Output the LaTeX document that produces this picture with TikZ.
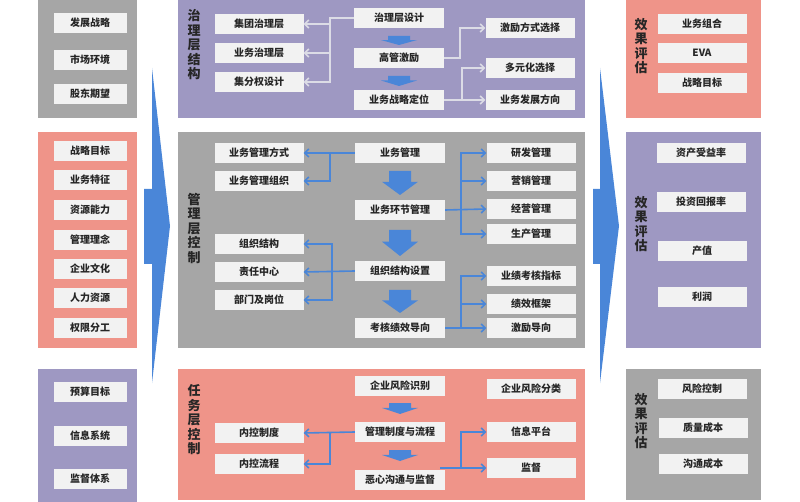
\documentclass[tikz,border=0pt]{standalone}
\usepackage{fontspec}
\setmainfont{Noto Sans CJK SC}
\usetikzlibrary{arrows.meta}
\definecolor{pgray}{HTML}{A6A6A6}
\definecolor{psalmon}{HTML}{EF9489}
\definecolor{ppurple}{HTML}{9E98C2}
\definecolor{bwhite}{HTML}{F2F2F2}
\definecolor{ablue}{HTML}{4A86D8}
\definecolor{alight}{HTML}{DCDCE6}
\tikzset{
  panel/.style={fill=#1, draw=none},
  box/.style={fill=bwhite, minimum width=#1, minimum height=20, inner sep=0pt,
    font=\bfseries\fontsize{10}{12}\selectfont, text=black!85},
  box/.default=89,
  title/.style={align=center, font=\bfseries\fontsize{13}{14.5}\selectfont, text=black!85, inner sep=0pt},
  conn/.style={draw=ablue, line width=1.6pt, -{Straight Barb[length=4pt,width=8pt]}},
  lconn/.style={conn, draw=alight},
  blk/.style={fill=ablue, draw=none}
}
% block arrow pointing down: x, top, bottom
\newcommand{\dnarrow}[3]{\fill[blk] (#1-11,#2) -- (#1+11,#2) -- (#1+11,{#2+(#3-#2)*0.45}) -- (#1+18,{#2+(#3-#2)*0.45}) -- (#1,#3) -- (#1-18,{#2+(#3-#2)*0.45}) -- (#1-11,{#2+(#3-#2)*0.45}) -- cycle;}
\begin{document}
\begin{tikzpicture}[x=1pt,y=-1pt]
    \useasboundingbox (0,0) rectangle (800,502);

    % left column
    \fill[panel=pgray] (38,0) rectangle (137,118);
    \fill[panel=psalmon] (38,132) rectangle (137,348);
    \fill[panel=ppurple] (38,369) rectangle (137,502);
    \node[box=73] (fz) at (90,23) {发展战略};
    \node[box=73] (sc) at (90,60) {市场环境};
    \node[box=73] (gd) at (90,94) {股东期望};
    \node[box=73] (zl) at (90,151) {战略目标};
    \node[box=73] (tz) at (90,180) {业务特征};
    \node[box=73] (zy) at (90,210) {资源能力};
    \node[box=73] (gl) at (90,240) {管理理念};
    \node[box=73] (wh) at (90,269) {企业文化};
    \node[box=73] (rl) at (90,298) {人力资源};
    \node[box=73] (qx) at (90,328) {权限分工};
    \node[box=73] (ys) at (90,392) {预算目标};
    \node[box=73] (xx) at (90,436) {信息系统};
    \node[box=73] (jd) at (90,479) {监督体系};

    % big arrows
    \fill[blk] (152,68) -- (170,226) -- (152,383) -- (152,264) -- (144,264) -- (144,189) -- (152,189) -- cycle;
    \fill[blk] (600,68) -- (619,226) -- (600,383) -- (600,264) -- (593,264) -- (593,189) -- (600,189) -- cycle;

    % governance layer
    \fill[panel=ppurple] (178,0) rectangle (585,118);
    \node[title] at (194,45) {治\\理\\层\\结\\构};
    \node[box] (jtzl) at (259,24) {集团治理层};
    \node[box] (ywzl) at (259,53) {业务治理层};
    \node[box] (jfq) at (259,82) {集分权设计};
    \node[box=90] (zlsj) at (399,18) {治理层设计};
    \node[box=90] (ggjl) at (399,58) {高管激励};
    \node[box=90] (ywdw) at (399,100) {业务战略定位};
    \node[box] (jlfs) at (530,28) {激励方式选择};
    \node[box] (dyh) at (530,68) {多元化选择};
    \node[box] (fzfx) at (530,100) {业务发展方向};
    \draw[lconn] (zlsj.west) -- (330,18) |- (jtzl.east);
    \draw[lconn] (330,18) |- (ywzl.east);
    \draw[lconn] (330,18) |- (jfq.east);
    \draw[lconn] (ggjl.east) -- (460,58) |- (jlfs.west);
    \draw[lconn] (ywdw.east) -- (fzfx.west);
    \draw[lconn] (462,100) |- (dyh.west);
    \dnarrow{399}{36}{45}
    \dnarrow{399}{76}{86}

    % management layer
    \fill[panel=pgray] (178,132) rectangle (585,348);
    \node[title] at (194,228) {管\\理\\层\\控\\制};
    \node[box] (glfs) at (259,153) {业务管理方式};
    \node[box] (glzz) at (259,181) {业务管理组织};
    \node[box] (zzjg) at (259,244) {组织结构};
    \node[box] (zrzx) at (259,272) {责任中心};
    \node[box] (bmgw) at (259,300) {部门及岗位};
    \node[box=90] (ywgl) at (400,153) {业务管理};
    \node[box=90] (hjgl) at (400,210) {业务环节管理};
    \node[box=90] (jgsz) at (400,271) {组织结构设置};
    \node[box=90] (khdx) at (400,328) {考核绩效导向};
    \node[box] (yfgl) at (531,153) {研发管理};
    \node[box] (yxgl) at (531,181) {营销管理};
    \node[box] (jygl) at (531,209) {经营管理};
    \node[box] (scgl) at (531,234) {生产管理};
    \node[box] (yjzb) at (531,276) {业绩考核指标};
    \node[box] (jxkj) at (531,304) {绩效框架};
    \node[box] (jldx) at (531,328) {激励导向};
    \draw[conn] (ywgl.west) -- (330,153) -- (glfs.east);
    \draw[conn] (330,153) |- (glzz.east);
    \draw[conn] (hjgl.east) -- (jygl.west);
    \draw[conn] (461,209) |- (yfgl.west);
    \draw[conn] (461,209) |- (yxgl.west);
    \draw[conn] (461,209) |- (scgl.west);
    \draw[conn] (jgsz.west) -- (zrzx.east);
    \draw[conn] (332,271) |- (zzjg.east);
    \draw[conn] (332,271) |- (bmgw.east);
    \draw[conn] (khdx.east) -- (jldx.west);
    \draw[conn] (461,328) |- (yjzb.west);
    \draw[conn] (461,328) |- (jxkj.west);
    \dnarrow{400}{171}{195}
    \dnarrow{400}{230}{256}
    \dnarrow{400}{290}{313}

    % task layer
    \fill[panel=psalmon] (178,369) rectangle (585,500);
    \node[title] at (194,420) {任\\务\\层\\控\\制};
    \node[box] (nkzd) at (259,433) {内控制度};
    \node[box] (nklc) at (259,464) {内控流程};
    \node[box=90] (fxsb) at (400,386) {企业风险识别};
    \node[box=90] (zdlc) at (400,432) {管理制度与流程};
    \node[box=90] (gtjd) at (400,480) {恶心沟通与监督};
    \node[box] (fxfl) at (531,389) {企业风险分类};
    \node[box] (xxpt) at (531,432) {信息平台};
    \node[box] (jdu) at (531,468) {监督};
    \draw[conn] (zdlc.west) -- (nkzd.east);
    \draw[conn] (330,432) |- (nklc.east);
    \draw[conn] (440,468) -- (jdu.west);
    \draw[conn] (461,468) |- (xxpt.west);
    \dnarrow{400}{403}{414}
    \dnarrow{400}{450}{461}

    % right column
    \fill[panel=psalmon] (626,0) rectangle (761,118);
    \fill[panel=ppurple] (626,132) rectangle (761,348);
    \fill[panel=pgray] (626,369) rectangle (761,500);
    \node[title] at (641,46) {效\\果\\评\\估};
    \node[title] at (641,224) {效\\果\\评\\估};
    \node[title] at (641,421) {效\\果\\评\\估};
    \node[box] (ywzh) at (702,24) {业务组合};
    \node[box] (eva) at (702,53) {EVA};
    \node[box] (zlmb) at (702,83) {战略目标};
    \node[box] (zcsy) at (701,153) {资产受益率};
    \node[box] (tzhb) at (701,202) {投资回报率};
    \node[box] (cz) at (702,251) {产值};
    \node[box] (lr) at (702,297) {利润};
    \node[box] (fxkz) at (702,389) {风险控制};
    \node[box] (zlcb) at (703,428) {质量成本};
    \node[box] (gtcb) at (703,464) {沟通成本};
\end{tikzpicture}
\end{document}
